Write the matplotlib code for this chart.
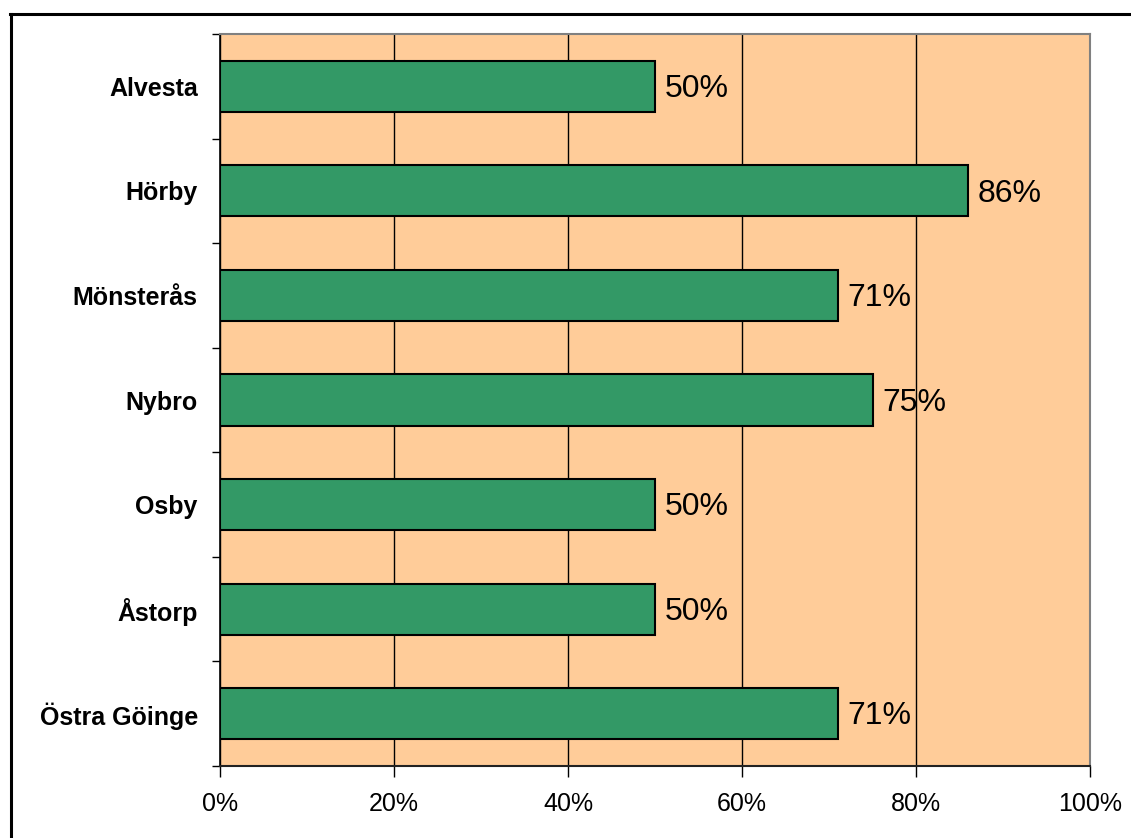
import matplotlib
matplotlib.use("Agg")
import matplotlib.pyplot as plt
from matplotlib.lines import Line2D
import numpy as np

categories = ["Alvesta", "Hörby", "Mönsterås", "Nybro", "Osby", "Åstorp", "Östra Göinge"]
values = [50, 86, 71, 75, 50, 50, 71]
xticks = [0, 20, 40, 60, 80, 100]
xtick_labels = ["0%", "20%", "40%", "60%", "80%", "100%"]

plt.rcParams['font.family'] = ['Liberation Sans', 'DejaVu Sans']

W, H = 1131, 838
fig = plt.figure(figsize=(W / 100, H / 100), dpi=100)
fig.patch.set_facecolor("white")

ax = fig.add_axes([220 / W, 1 - 766 / H, (1090 - 220) / W, (766 - 34) / H])
ax.set_facecolor("#FFCC99")

y = np.arange(len(categories))
ax.barh(y, values, height=0.49, color="#339966", edgecolor="black", linewidth=1.5, zorder=3)

for yi, v in zip(y, values):
    ax.annotate(f"{v}%", xy=(v, yi), xytext=(7, -2), textcoords="offset points",
                va="center", ha="left", fontsize=23, color="black", zorder=4)

ax.set_xlim(0, 100)
ax.set_ylim(len(categories) - 0.5, -0.5)

ax.set_xticks(xticks)
ax.set_xticklabels(xtick_labels, fontsize=18)
ax.tick_params(axis="x", direction="out", length=8, width=1, pad=11, color="black")

ax.set_yticks(y)
ax.set_yticklabels(categories, fontsize=18, fontweight="bold")
ax.tick_params(axis="y", which="major", length=0, pad=16)
ax.set_yticks(np.arange(-0.5, len(categories) + 0.5, 1), minor=True)
ax.tick_params(axis="y", which="minor", direction="out", length=6, width=1, color="black")

ax.grid(axis="x", color="black", linewidth=1, zorder=1)
ax.set_axisbelow(True)

for s in ["top", "right"]:
    ax.spines[s].set_color("#808080")
    ax.spines[s].set_linewidth(1.5)
ax.spines["left"].set_color("black")
ax.spines["left"].set_linewidth(1.2)
ax.spines["bottom"].set_color("#222222")
ax.spines["bottom"].set_linewidth(1.5)

# outer chart frame (top and left edges visible)
fig.add_artist(Line2D([10 / W, 1.0], [1 - 14.5 / H, 1 - 14.5 / H], transform=fig.transFigure,
                      color="black", linewidth=2.2))
fig.add_artist(Line2D([10.5 / W, 10.5 / W], [0.0, 1 - 14.5 / H], transform=fig.transFigure,
                      color="black", linewidth=2.2))

fig.savefig("out.png", dpi=100, facecolor="white")
